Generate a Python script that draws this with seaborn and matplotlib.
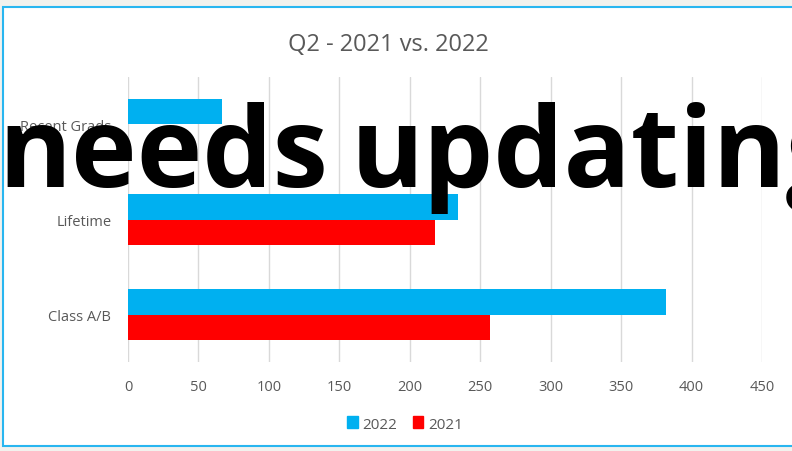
import matplotlib
matplotlib.use("Agg")
import matplotlib.pyplot as plt
import seaborn as sns
import pandas as pd
from matplotlib.patches import Rectangle

categories = ["Recent Grads", "Lifetime", "Class A/B"]
series_names = ["2022", "2021"]
values_2022 = [67, 234, 382]
values_2021 = [0, 218, 257]
x_ticks = [0, 50, 100, 150, 200, 250, 300, 350, 400, 450]
colors = {"2022": "#00B0F0", "2021": "#FF0000"}
overlay_words = ["needs", "updating"]

df = pd.DataFrame({
    "category": categories * 2,
    "year": ["2022"] * len(categories) + ["2021"] * len(categories),
    "value": values_2022 + values_2021,
})

sns.set_style("white")
plt.rcParams["font.family"] = ["Open Sans", "DejaVu Sans"]

fig = plt.figure(figsize=(7.92, 4.52), dpi=100)
fig.patch.set_facecolor("#F2F2EE")
# chart area background with blue border
fig.patches.append(Rectangle((3 / 792, 0.01), 1.0, 1 - 8 / 452 - 0.01,
                             transform=fig.transFigure, facecolor="white",
                             edgecolor="#29B6F0", linewidth=1.5, zorder=-5))

ax = fig.add_axes([128 / 792, 1 - 363 / 452, (762 - 128) / 792, (363 - 78) / 452])
ax.set_zorder(2)
ax.set_facecolor("none")
sns.barplot(data=df, y="category", x="value", hue="year", order=categories,
            hue_order=series_names, palette=colors, orient="h", width=0.53,
            saturation=1, linewidth=0, ax=ax, legend=False)

ax.set_xlim(0, 450)
ax.set_xticks(x_ticks)
ax.set_xticklabels([str(t) for t in x_ticks])
ax.grid(axis="x", color="#D9D9D9", linewidth=1)
ax.set_axisbelow(True)
for s in ax.spines.values():
    s.set_visible(False)
ax.tick_params(axis="both", length=0, colors="#595959", labelsize=10.5)
ax.tick_params(axis="x", pad=12)
ax.tick_params(axis="y", pad=12)
ax.set_xlabel("")
ax.set_ylabel("")

fig.text(0.49, 1 - 45 / 452, "Q2 - 2021 vs. 2022", ha="center", va="center",
         fontsize=17, color="#595959")

handles = [Rectangle((0, 0), 1, 1, color=colors[n]) for n in series_names]
fig.legend(handles, series_names, loc="center", bbox_to_anchor=(405 / 792, 1 - 425 / 452),
           ncol=2, frameon=False, fontsize=11, handlelength=0.7, handleheight=0.8,
           handletextpad=0.3, columnspacing=1.0, labelcolor="#595959")

for word, xpx in zip(overlay_words, [-2, 351]):
    t = fig.text(xpx / 792, 1 - 187 / 452, word, ha="left", va="baseline",
                 fontsize=80, fontweight="bold", color="black")
    t.set_zorder(10)

fig.savefig("out.png", dpi=100, facecolor=fig.get_facecolor())
